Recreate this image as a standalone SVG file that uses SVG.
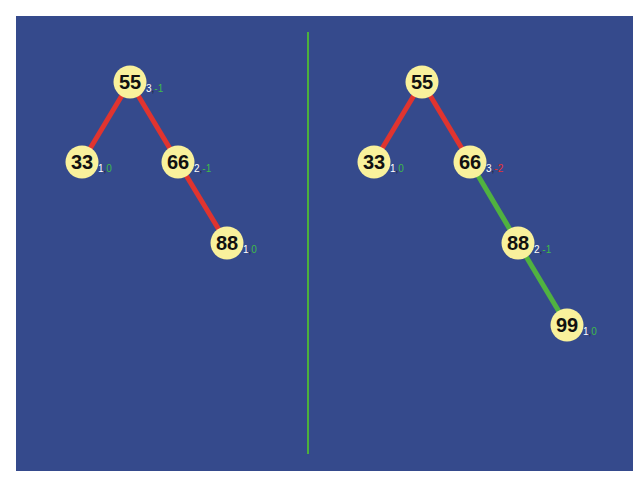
<svg xmlns="http://www.w3.org/2000/svg" width="640" height="480" viewBox="0 0 640 480">
<style>
.n{fill:#f9f19c}
.t{font-family:"Liberation Sans",Arial,sans-serif;font-size:20px;font-weight:bold;fill:#111;text-anchor:middle}
.s{font-family:"Liberation Sans",Arial,sans-serif;font-size:10px}
.h{fill:#fff}
.c{fill:#223}
.g{fill:#3fba4a}
.r{fill:#e83030}
.er{stroke:#e0342f;stroke-width:5}
.eg{stroke:#50b240;stroke-width:5}
</style>
<rect x="0" y="0" width="640" height="480" fill="#fff"/>
<rect x="16" y="16" width="617" height="455" fill="#354a8c"/>
<line x1="308" y1="32" x2="308" y2="454" stroke="#4cb03c" stroke-width="2"/>
<g id="connectors">
<line class="er" x1="130" y1="82" x2="82" y2="162"/>
<line class="er" x1="130" y1="82" x2="178" y2="162"/>
<line class="er" x1="178" y1="162" x2="227" y2="243"/>
<line class="er" x1="422" y1="82" x2="374" y2="162"/>
<line class="er" x1="422" y1="82" x2="470" y2="162"/>
<line class="eg" x1="470" y1="162" x2="518" y2="243"/>
<line class="eg" x1="518" y1="243" x2="567" y2="325"/>
</g>
<g id="L55"><circle class="n" cx="130" cy="82" r="16.5"/><text class="t" x="130" y="89">55</text><text class="s" x="146" y="92"><tspan class="h">3</tspan><tspan class="c">,</tspan><tspan class="g">-1</tspan></text></g>
<g id="L33"><circle class="n" cx="82" cy="162" r="16.5"/><text class="t" x="82" y="169">33</text><text class="s" x="98" y="172"><tspan class="h">1</tspan><tspan class="c">,</tspan><tspan class="g">0</tspan></text></g>
<g id="L66"><circle class="n" cx="178" cy="162" r="16.5"/><text class="t" x="178" y="169">66</text><text class="s" x="194" y="172"><tspan class="h">2</tspan><tspan class="c">,</tspan><tspan class="g">-1</tspan></text></g>
<g id="L88"><circle class="n" cx="227" cy="243" r="16.5"/><text class="t" x="227" y="250">88</text><text class="s" x="243" y="253"><tspan class="h">1</tspan><tspan class="c">,</tspan><tspan class="g">0</tspan></text></g>
<g id="R55"><circle class="n" cx="422" cy="82" r="16.5"/><text class="t" x="422" y="89">55</text></g>
<g id="R33"><circle class="n" cx="374" cy="162" r="16.5"/><text class="t" x="374" y="169">33</text><text class="s" x="390" y="172"><tspan class="h">1</tspan><tspan class="c">,</tspan><tspan class="g">0</tspan></text></g>
<g id="R66"><circle class="n" cx="470" cy="162" r="16.5"/><text class="t" x="470" y="169">66</text><text class="s" x="486" y="172"><tspan class="h">3</tspan><tspan class="c">,</tspan><tspan class="r">-2</tspan></text></g>
<g id="R88"><circle class="n" cx="518" cy="243" r="16.5"/><text class="t" x="518" y="250">88</text><text class="s" x="534" y="253"><tspan class="h">2</tspan><tspan class="c">,</tspan><tspan class="g">-1</tspan></text></g>
<g id="R99"><circle class="n" cx="567" cy="325" r="16.5"/><text class="t" x="567" y="332">99</text><text class="s" x="583" y="335"><tspan class="h">1</tspan><tspan class="c">,</tspan><tspan class="g">0</tspan></text></g>
</svg>
